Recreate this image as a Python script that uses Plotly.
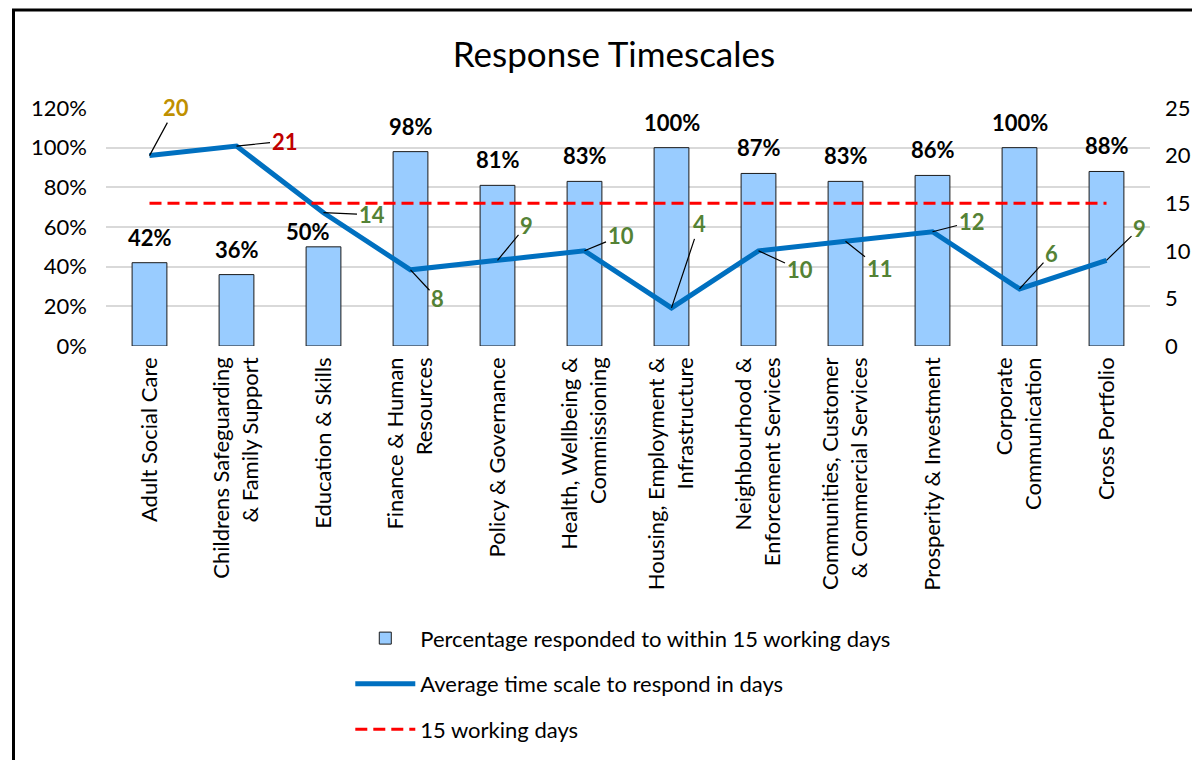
import plotly.graph_objects as go

categories = [
    "Adult Social Care",
    "Childrens Safeguarding<br>& Family Support",
    "Education & Skills",
    "Finance & Human<br>Resources",
    "Policy & Governance",
    "Health, Wellbeing &<br>Commissioning",
    "Housing, Employment &<br>Infrastructure",
    "Neighbourhood &<br>Enforcement Services",
    "Communities, Customer<br>& Commercial Services",
    "Prosperity & Investment",
    "Corporate<br>Communication",
    "Cross Portfolio",
]
pct_within_15 = [0.42, 0.36, 0.50, 0.98, 0.81, 0.83, 1.00, 0.87, 0.83, 0.86, 1.00, 0.88]
avg_days = [20, 21, 14, 8, 9, 10, 4, 10, 11, 12, 6, 9]
target_days = [15] * len(categories)

# label colours and leader offsets (px) for the line labels
day_label_colors = ["#BF9000", "#C00000"] + ["#548235"] * 10
day_label_offsets = [(26, -48), (48, -5), (48, 2), (27, 29), (29, -35), (36, -15),
                     (28, -84), (41, 19), (34, 27), (39, -10), (32, -35), (33, -32)]
# the 50% label was nudged left/down in the original to dodge the line
pct_label_shift = {2: (-16, -10)}

FONT = "Lato"

fig = go.Figure()

fig.add_trace(go.Bar(
    x=categories, y=pct_within_15, name="Percentage responded to within 15 working days",
    marker=dict(color="#99CCFF", line=dict(color="#1a1a1a", width=1)),
    width=0.4, legendgroup="a",
))
fig.add_trace(go.Scatter(
    x=categories, y=avg_days, yaxis="y2", mode="lines",
    name="Average time scale to respond in days",
    line=dict(color="#0070C0", width=5), legendgroup="b",
))
fig.add_trace(go.Scatter(
    x=categories, y=target_days, yaxis="y2", mode="lines", name="15 working days",
    line=dict(color="#FF0000", width=3, dash="12px,6px"), legendgroup="c",
))

annotations = []
for i, (cat, p) in enumerate(zip(categories, pct_within_15)):
    dx, dy = pct_label_shift.get(i, (0, 0))
    annotations.append(dict(
        x=cat, y=p, xref="x", yref="y", text=f"<b>{round(p * 100)}%</b>",
        showarrow=False, yanchor="bottom", yshift=10 + dy, xshift=dx,
        font=dict(family=FONT, size=22, color="black"),
    ))
for cat, d, col, (ox, oy) in zip(categories, avg_days, day_label_colors, day_label_offsets):
    annotations.append(dict(
        x=cat, y=d, xref="x", yref="y2", text=f"<b>{d}</b>",
        showarrow=True, arrowhead=0, arrowwidth=1.2, arrowcolor="black",
        ax=ox, ay=oy, standoff=0,
        font=dict(family=FONT, size=22, color=col),
    ))

fig.update_layout(
    width=1200, height=760,
    paper_bgcolor="white", plot_bgcolor="white",
    margin=dict(l=98, r=58, t=100, b=422),
    font=dict(family=FONT, size=22, color="black"),
    title=dict(text="Response Timescales", x=0.505, xanchor="center", y=0.938,
               yanchor="middle", font=dict(family=FONT, size=35, color="black")),
    xaxis=dict(tickangle=-90, showgrid=False, showline=False, ticks="",
               tickfont=dict(size=22), ticklabelstandoff=6),
    yaxis=dict(range=[0, 1.2], dtick=0.2, tickformat=".0%", showgrid=True,
               gridcolor="#D9D9D9", gridwidth=1.5, zeroline=False, ticks="",
               tickfont=dict(size=22), ticklabelstandoff=18),
    yaxis2=dict(range=[0, 25], dtick=5, overlaying="y", side="right",
                showgrid=False, zeroline=False, ticks="", tickfont=dict(size=22),
                ticklabelstandoff=14),
    bargap=0.6,
    showlegend=True,
    legend=dict(x=0.234, y=-1.14, xanchor="left", yanchor="top",
                traceorder="grouped", tracegroupgap=14, font=dict(size=22),
                itemwidth=60),
    annotations=annotations,
    shapes=[dict(type="rect", xref="paper", yref="paper", x0=-0.0886, x1=1.3,
                 y0=-1.9, y1=1.412, line=dict(color="black", width=3),
                 fillcolor="rgba(0,0,0,0)", layer="below")],
)

fig.write_html("out.html")
